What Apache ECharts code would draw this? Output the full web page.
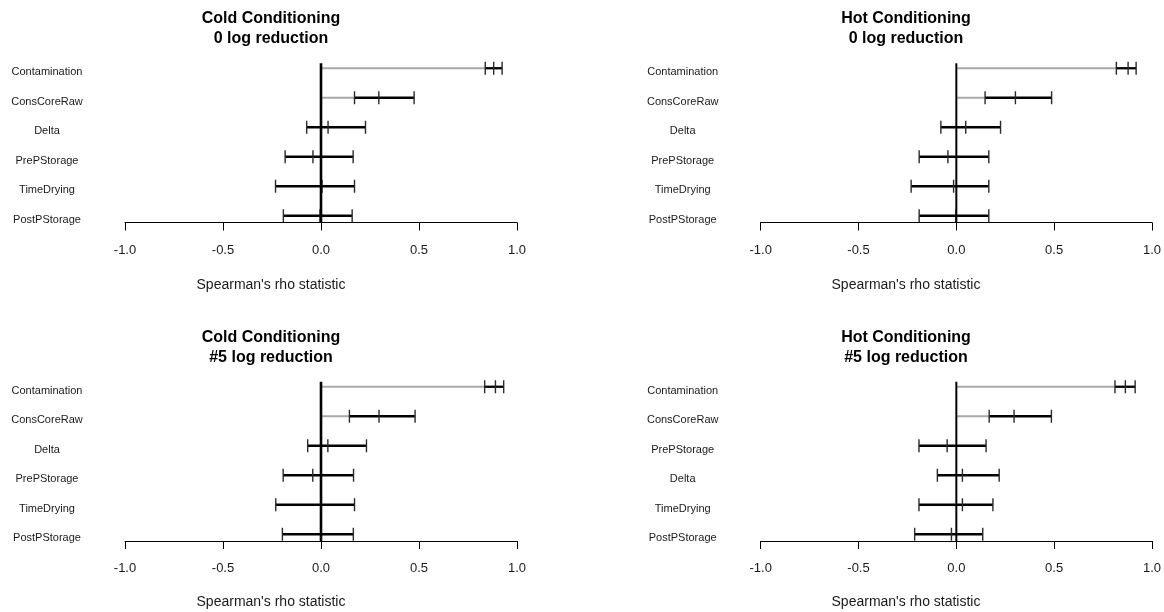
<!DOCTYPE html>
<html>
<head>
<meta charset="utf-8">
<script src="https://cdn.jsdelivr.net/npm/echarts/dist/echarts.min.js"></script>
<style>
html,body{margin:0;padding:0;background:#fff;}
#chart{width:1164px;height:612px;}
</style>
</head>
<body>
<div id="chart"></div>
<script>
// ---- Data ----
const catsCold0 = ['Contamination', 'ConsCoreRaw', 'Delta', 'PrePStorage', 'TimeDrying', 'PostPStorage'];
const cold0Low  = [0.838, 0.171, -0.073, -0.183, -0.232, -0.192];
const cold0Mid  = [0.881, 0.295, 0.036, -0.041, 0.005, -0.005];
const cold0High = [0.924, 0.475, 0.227, 0.164, 0.171, 0.159];

const catsHot0 = ['Contamination', 'ConsCoreRaw', 'Delta', 'PrePStorage', 'TimeDrying', 'PostPStorage'];
const hot0Low  = [0.818, 0.147, -0.079, -0.190, -0.231, -0.190];
const hot0Mid  = [0.878, 0.302, 0.048, -0.043, -0.014, -0.002];
const hot0High = [0.919, 0.487, 0.226, 0.166, 0.166, 0.166];

const catsCold5 = ['Contamination', 'ConsCoreRaw', 'Delta', 'PrePStorage', 'TimeDrying', 'PostPStorage'];
const cold5Low  = [0.835, 0.145, -0.068, -0.193, -0.231, -0.197];
const cold5Mid  = [0.890, 0.296, 0.035, -0.042, 0.000, 0.000];
const cold5High = [0.932, 0.480, 0.232, 0.166, 0.171, 0.165];

const catsHot5 = ['Contamination', 'ConsCoreRaw', 'PrePStorage', 'Delta', 'TimeDrying', 'PostPStorage'];
const hot5Low  = [0.811, 0.168, -0.191, -0.097, -0.191, -0.213];
const hot5Mid  = [0.864, 0.295, -0.047, 0.031, 0.031, -0.025];
const hot5High = [0.914, 0.486, 0.152, 0.219, 0.187, 0.135];

const xTicks = [-1.0, -0.5, 0.0, 0.5, 1.0];
const titles = [
  'Cold Conditioning\n0 log reduction',
  'Hot Conditioning\n0 log reduction',
  'Cold Conditioning\n#5 log reduction',
  'Hot Conditioning\n#5 log reduction'
];
const xAxisTitle = "Spearman's rho statistic";

// ---- Layout ----
const FONT = '"Liberation Sans", Arial, sans-serif';
const AXIS_OFFSET = -8;
const panels = [
  {cats: catsCold0, lo: cold0Low, mid: cold0Mid, hi: cold0High, left: 125, top: 53.5, zeroW: 2.6, cx: 271, titleY: 9, axTitleY: 285},
  {cats: catsHot0, lo: hot0Low, mid: hot0Mid, hi: hot0High, left: 760.7, top: 53.5, zeroW: 2, cx: 906, titleY: 9, axTitleY: 285},
  {cats: catsCold5, lo: cold5Low, mid: cold5Mid, hi: cold5High, left: 125, top: 372, zeroW: 2.6, cx: 271, titleY: 327.5, axTitleY: 602.5},
  {cats: catsHot5, lo: hot5Low, mid: hot5Mid, hi: hot5High, left: 760.7, top: 372, zeroW: 2, cx: 906, titleY: 327.5, axTitleY: 602.5}
];

const grids = [], xAxes = [], yAxes = [], series = [], graphics = [];

function errRender(params, api) {
  const lo = api.value(0), mid = api.value(1), hi = api.value(2), idx = api.value(3);
  const pLo = api.coord([lo, idx]);
  const pMid = api.coord([mid, idx]);
  const pHi = api.coord([hi, idx]);
  const p0 = api.coord([0, idx]);
  const y = pLo[1];
  const ch = [];
  if (lo > 0) {
    ch.push({type: 'line', shape: {x1: p0[0], y1: y, x2: pLo[0], y2: y}, style: {stroke: '#a9a9a9', lineWidth: 2}});
  } else if (hi < 0) {
    ch.push({type: 'line', shape: {x1: pHi[0], y1: y, x2: p0[0], y2: y}, style: {stroke: '#a9a9a9', lineWidth: 2}});
  }
  ch.push({type: 'line', shape: {x1: pLo[0], y1: y, x2: pHi[0], y2: y}, style: {stroke: '#000', lineWidth: 2.3}});
  [pLo, pMid, pHi].forEach(function (p) {
    ch.push({type: 'line', shape: {x1: p[0], y1: y - 6.5, x2: p[0], y2: y + 6.5}, style: {stroke: '#2a2a2a', lineWidth: 1.4}});
  });
  return {type: 'group', children: ch};
}

panels.forEach(function (p, i) {
  grids.push({left: p.left, top: p.top, width: 392, height: 177, containLabel: false});
  xAxes.push({
    type: 'value', gridIndex: i, min: -1, max: 1, interval: 0.5, offset: AXIS_OFFSET,
    axisLine: {show: true, lineStyle: {color: '#000', width: 1}},
    axisTick: {show: true, length: 8, lineStyle: {color: '#000', width: 1}},
    axisLabel: {margin: 21, color: '#1a1a1a', fontSize: 13, fontFamily: FONT,
      formatter: function (v) { return xTicks.indexOf(v) >= 0 ? v.toFixed(1) : ''; }},
    splitLine: {show: false}
  });
  yAxes.push({
    type: 'category', gridIndex: i, data: p.cats, inverse: true, boundaryGap: true,
    axisLine: {show: false}, axisTick: {show: false}, splitLine: {show: false},
    axisLabel: {margin: 78, align: 'center', verticalAlign: 'top', lineHeight: 8,
      color: '#1a1a1a', fontSize: 11, fontFamily: FONT}
  });
  const data = p.cats.map(function (c, k) { return [p.lo[k], p.mid[k], p.hi[k], k]; });
  series.push({
    type: 'custom', xAxisIndex: i, yAxisIndex: i, renderItem: errRender,
    encode: {x: [0, 1, 2], y: 3}, data: data, silent: true
  });
  const zw = p.zeroW;
  series.push({
    type: 'custom', xAxisIndex: i, yAxisIndex: i, silent: true,
    data: [[0, 0]], encode: {x: 0, y: 1},
    renderItem: function (params, api) {
      const pt = api.coord([0, 0]);
      const cs = params.coordSys;
      const bottom = cs.y + cs.height + AXIS_OFFSET;
      return {type: 'line', shape: {x1: pt[0], y1: pt[1] - 5, x2: pt[0], y2: bottom}, style: {stroke: '#000', lineWidth: zw}};
    }
  });
  graphics.push({
    type: 'text', x: p.cx, y: p.titleY, silent: true,
    style: {text: titles[i], font: 'bold 16px ' + FONT, fill: '#000', textAlign: 'center', textVerticalAlign: 'top', lineHeight: 20}
  });
  graphics.push({
    type: 'text', x: p.cx, y: p.axTitleY, silent: true,
    style: {text: xAxisTitle, font: '14px ' + FONT, fill: '#1a1a1a', textAlign: 'center', textVerticalAlign: 'middle'}
  });
});

const chart = echarts.init(document.getElementById('chart'), null, {renderer: 'canvas'});
chart.setOption({
  backgroundColor: '#ffffff',
  animation: false,
  grid: grids,
  xAxis: xAxes,
  yAxis: yAxes,
  series: series,
  graphic: graphics
});
</script>
</body>
</html>
